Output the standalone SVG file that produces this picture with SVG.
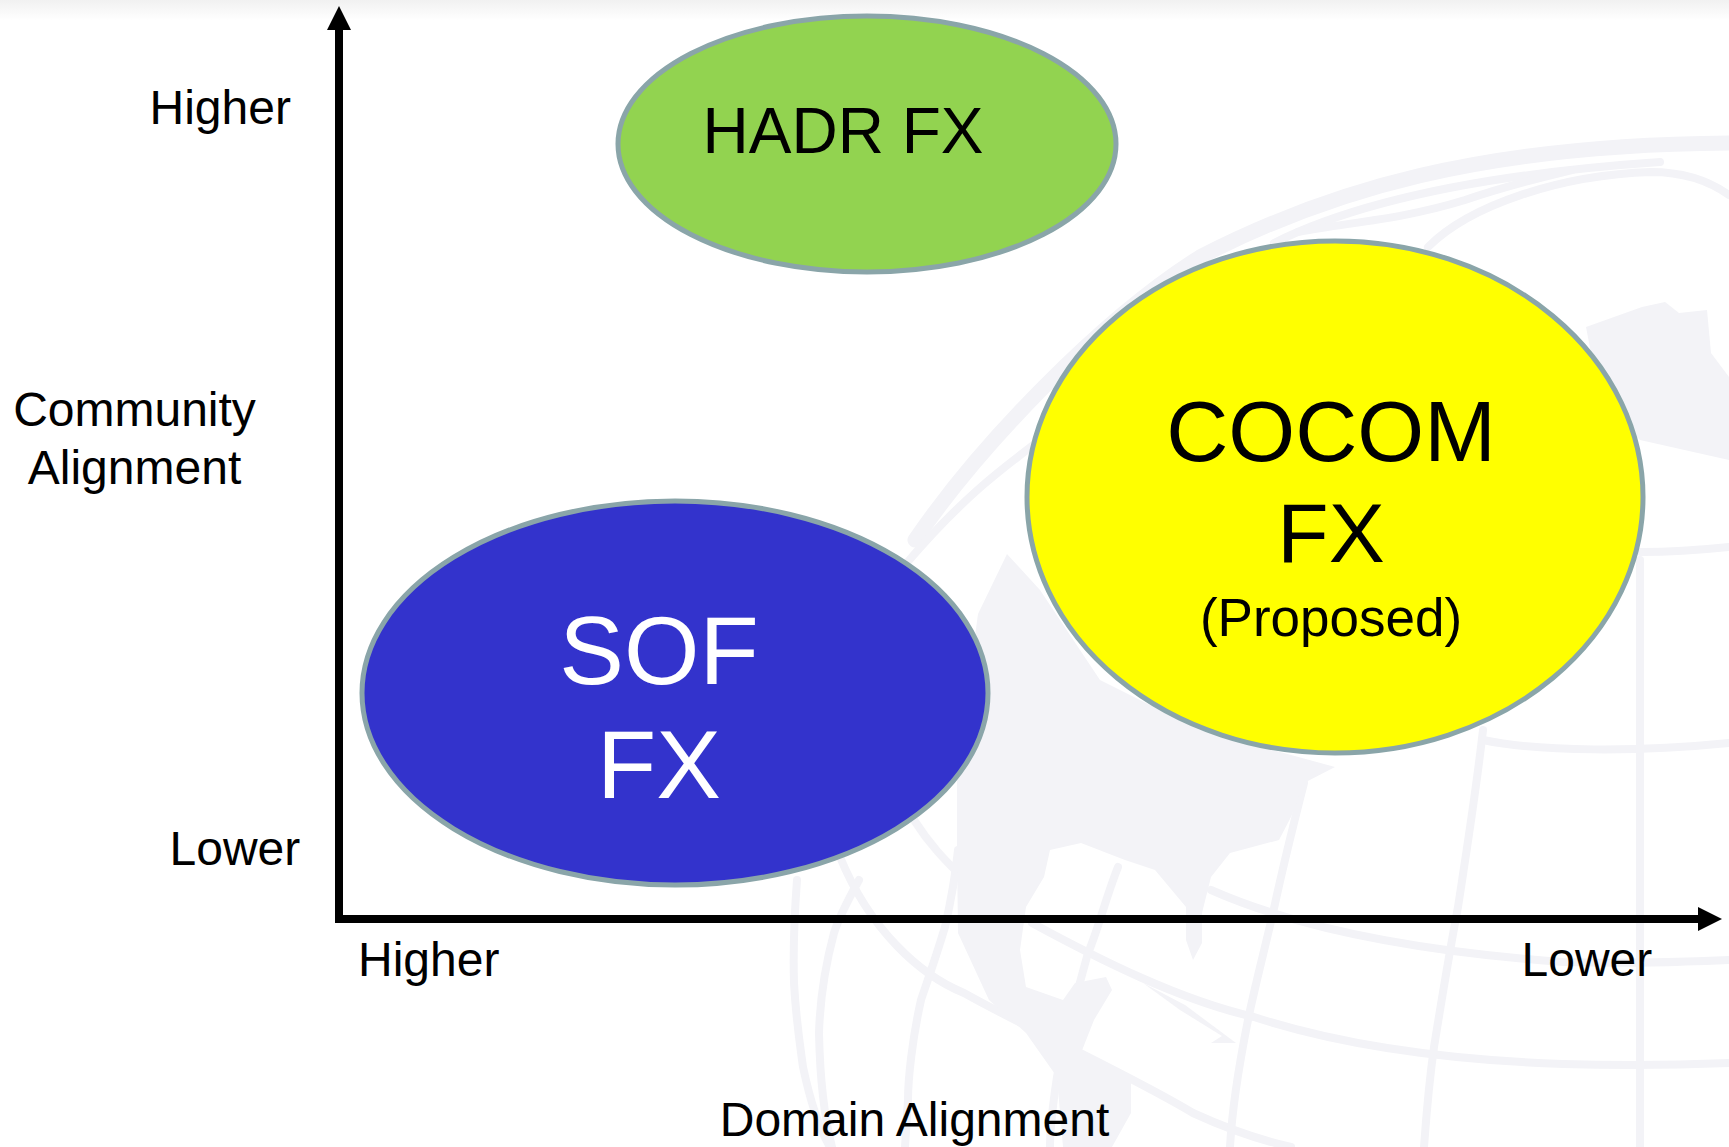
<svg xmlns="http://www.w3.org/2000/svg" width="1729" height="1147" viewBox="0 0 1729 1147">
<defs>
<linearGradient id="topfade" x1="0" y1="0" x2="0" y2="1"><stop offset="0" stop-color="#f1f1f1"/><stop offset="1" stop-color="#ffffff"/></linearGradient>
<marker id="head" markerUnits="userSpaceOnUse" markerWidth="24" markerHeight="24" refX="0" refY="12" orient="auto"><path d="M0 0L24 12L0 24Z" fill="#000"/></marker>
</defs>
<style>
text{font-family:"Liberation Sans",Arial,sans-serif;fill:#000}
.m{text-anchor:middle}
.node{stroke:#8aa5a9;stroke-width:5}
.grid{fill:none;stroke:#f3f3f7;stroke-width:8;stroke-linecap:round}
.wide{stroke-width:15}
.land{fill:#f3f3f7}
.axis{fill:none;stroke:#000;stroke-width:8}
.l{font-size:48px}
</style>
<rect width="1729" height="1147" fill="#fff"/>
<rect width="1729" height="20" fill="url(#topfade)"/>
<g id="globe">
<path class="grid wide" d="M915 540C980 445 1100 320 1200 257C1330 190 1480 145 1729 143"/>
<path class="grid" d="M1274 243C1350 205 1470 175 1660 162"/>
<path class="grid" d="M1298 232C1350 222 1400 220 1465 200C1500 188 1530 180 1572 170"/>
<path class="grid" d="M1428 247C1470 205 1560 175 1651 172C1680 172 1705 178 1729 195"/>
<path class="grid" d="M905 565C960 500 1000 470 1040 440"/>
<path class="grid" d="M1641 552C1670 552 1700 550 1729 547"/>
<path class="grid" d="M1483 740C1540 752 1640 752 1729 743"/>
<path class="grid" d="M1211 890C1290 925 1400 950 1563 962C1630 964 1680 962 1729 960"/>
<path class="grid" d="M1032 923C1100 960 1180 1000 1254 1017C1340 1045 1450 1060 1563 1064C1630 1066 1680 1065 1729 1063"/>
<path class="grid" d="M840 857C870 930 920 975 964 993C1030 1030 1130 1075 1193 1113C1230 1130 1260 1140 1291 1147"/>
<path class="grid" d="M1640 560V1147"/>
<path class="grid" d="M1483 730C1475 800 1462 880 1458 907C1448 960 1440 1010 1434 1047C1428 1090 1426 1120 1424 1147"/>
<path class="grid" d="M1304 783C1292 830 1280 880 1273 913C1262 960 1254 990 1248 1020C1238 1070 1232 1110 1230 1147"/>
<path class="grid" d="M1118 867C1105 900 1098 930 1088 953C1075 1000 1062 1050 1057 1077C1052 1110 1050 1130 1050 1147"/>
<path class="grid" d="M958 850C955 880 950 905 945 927C935 960 926 985 921 1000C912 1040 908 1080 908 1100L905 1147"/>
<path class="grid" d="M859 880C848 900 838 920 834 933C824 970 820 1000 819 1033C820 1080 825 1120 832 1147"/>
<path class="grid" d="M797 880C794 920 793 950 794 983C796 1020 800 1045 803 1067C810 1100 820 1130 830 1147"/>
<path class="grid" d="M914 820C930 845 945 860 958 873"/>
<path class="land" d="M1586 327L1642 307L1665 302L1679 313L1707 310L1711 353L1729 377V460L1640 440L1600 400Z"/>
<path class="land" d="M1007 554L1040 590L1100 680L1200 730L1335 767L1304 783L1291 817L1279 840L1230 853L1211 877L1202 913L1202 943L1193 960L1186 940L1186 907L1155 870L1125 860L1081 843L1050 850L1044 877L1026 907L1020 950L1026 987L1063 1000L1075 983L1106 977L1112 990L1094 1020L1081 1053L1131 1083L1131 1113L1112 1147H1063L1057 1077L1026 1033L989 1000L958 933L957 854L957 768L978 614Z"/>
<path class="land" d="M1143 983L1185 1005L1236 1043L1211 1043L1222 1036L1180 1010Z"/>
</g>
<g id="connectors">
<path class="axis" d="M339 919V30" marker-end="url(#head)"/>
<path class="axis" d="M335 919H1698" marker-end="url(#head)"/>
</g>
<g id="hadr"><ellipse class="node" cx="867" cy="144" rx="249" ry="128" fill="#92d350"/><text class="m" x="843" y="153" font-size="64">HADR FX</text></g>
<g id="cocom"><ellipse class="node" cx="1335" cy="497" rx="308" ry="256" fill="#ffff00"/><text class="m" x="1331" y="461" font-size="86">COCOM</text><text class="m" x="1331" y="562" font-size="84">FX</text><text class="m" x="1331" y="636" font-size="53">(Proposed)</text></g>
<g id="sof"><ellipse class="node" cx="675" cy="693" rx="313" ry="192" fill="#3333cc"/><text class="m" x="659" y="684" font-size="97" style="fill:#fff">SOF</text><text class="m" x="659" y="798" font-size="97" style="fill:#fff">FX</text></g>
<g id="labels">
<text class="l" x="149.500" y="124">Higher</text>
<text class="l" x="169.500" y="865">Lower</text>
<text class="l m" x="134.500" y="426">Community</text>
<text class="l m" x="134.500" y="484">Alignment</text>
<text class="l" x="358" y="976">Higher</text>
<text class="l" x="1521.500" y="976">Lower</text>
<text class="l m" x="914.500" y="1136">Domain Alignment</text>
</g>
</svg>
